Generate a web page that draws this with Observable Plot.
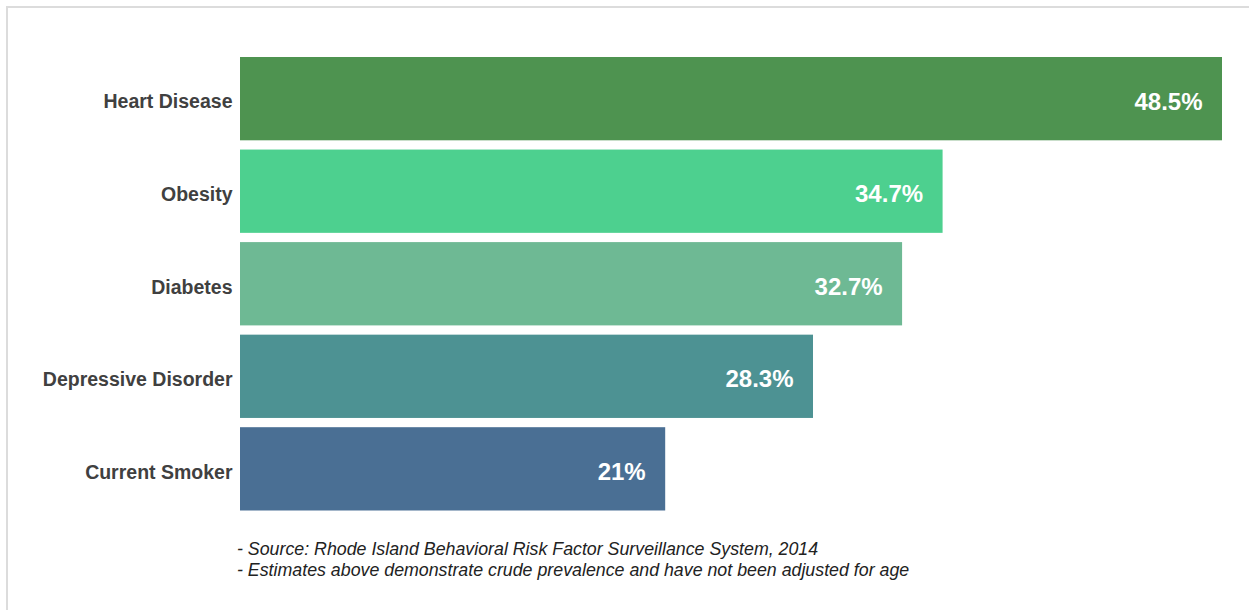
<!DOCTYPE html>
<html>
<head>
<meta charset="utf-8">
<script src="https://cdn.jsdelivr.net/npm/d3@7"></script>
<script src="https://cdn.jsdelivr.net/npm/@observablehq/plot@0.6"></script>
<style>
  html, body { margin: 0; padding: 0; background: #fff; overflow: hidden; }
  #frame { position: absolute; left: 6px; top: 6px; width: 1400px; height: 800px; border: 2px solid #dcdcdc; box-sizing: border-box; }
  #chart { position: absolute; left: 0; top: 0; }
  #note { position: absolute; left: 237px; top: 539px; font-family: "Liberation Sans", Arial, sans-serif; font-style: italic; font-size: 17.8px; line-height: 21px; color: #222; white-space: nowrap; }
</style>
</head>
<body>
<div id="frame"></div>
<div id="chart"></div>
<div id="note">
  <div>- Source: Rhode Island Behavioral Risk Factor Surveillance System, 2014</div>
  <div>- Estimates above demonstrate crude prevalence and have not been adjusted for age</div>
</div>
<script>
const categories = ["Heart Disease", "Obesity", "Diabetes", "Depressive Disorder", "Current Smoker"];
const values = [48.5, 34.7, 32.7, 28.3, 21];
const labels = ["48.5%", "34.7%", "32.7%", "28.3%", "21%"];
const colors = ["#4E9350", "#4DD08F", "#6EB994", "#4D9293", "#4A6F94"];

const data = categories.map((c, i) => ({category: c, value: values[i], label: labels[i]}));

const chart = Plot.plot({
  width: 1249,
  height: 520,
  marginLeft: 240,
  marginRight: 27,
  marginTop: 47.75,
  marginBottom: 0.25,
  style: {background: "transparent", overflow: "visible"},
  x: {domain: [0, 48.5], axis: null},
  y: {domain: categories, padding: 0.1, round: false, label: null},
  color: {domain: categories, range: colors},
  marks: [
    Plot.barX(data, {x: "value", y: "category", fill: "category"}),
    Plot.text(data, {x: "value", y: "category", text: "label", textAnchor: "end", dx: -20, dy: 3,
      fill: "white", fontWeight: "bold", fontSize: 24, fontFamily: "Liberation Sans, Arial, sans-serif"}),
    Plot.axisY({tickSize: 0, tickPadding: 8, dy: 3, label: null, fontSize: 19.5, fontWeight: "bold",
      fill: "#404040", fontFamily: "Liberation Sans, Arial, sans-serif"})
  ]
});
document.getElementById("chart").appendChild(chart);
</script>
</body>
</html>
